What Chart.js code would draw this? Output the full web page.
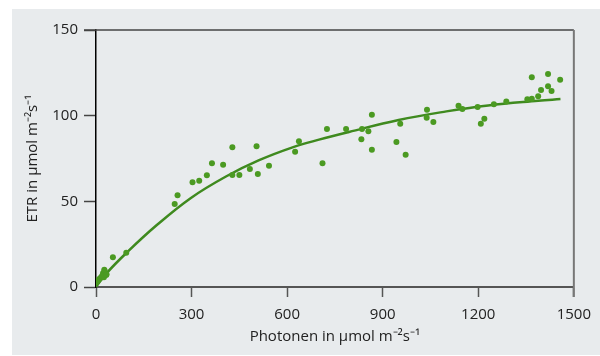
<!DOCTYPE html>
<html lang="de">
<head>
    <meta charset="UTF-8">
    <title>ETR vs Photonen</title>
    <script src="https://cdn.jsdelivr.net/npm/chart.js"></script>
    <style>
        html, body { margin: 0; padding: 0; background: #fff; }
        #wrap { width: 600px; height: 356px; }
    </style>
</head>
<body>
    <div id="wrap"><canvas id="etrChart" width="600" height="356"></canvas></div>

    <script>
        // measured points
        const photonen = [1, 6, 12, 17, 22, 25, 27, 32, 33, 26, 53, 95,
            247, 256, 303, 324, 348, 364, 399, 428, 428, 450, 483, 504, 508, 543,
            625, 637, 711, 725, 785, 835, 833, 855, 866, 866, 943, 955, 972,
            1039, 1038, 1059, 1138, 1150, 1198, 1208, 1219, 1249, 1288,
            1354, 1368, 1368, 1388, 1397, 1419, 1419, 1430, 1457];
        const etr = [2.7, 4, 5, 6, 8, 5.7, 9.5, 7, 7.4, 10, 17.3, 20,
            48.4, 53.5, 61.1, 62, 65.2, 72.2, 71.4, 81.5, 65.4, 65.4, 68.9, 82.1, 66, 70.8,
            79, 85, 72.2, 92.2, 92.2, 92.2, 86.2, 90.9, 100.6, 80.1, 84.6, 95.3, 77.2,
            103.5, 98.8, 96.3, 105.8, 103.9, 105.1, 95.3, 98.2, 106.6, 108.2,
            109.6, 109.9, 122.4, 111.3, 115, 124.3, 117.1, 114.4, 121];

        // fitted curve
        const fitX = [0, 33, 96, 190, 298, 408, 512, 617, 700, 794, 950, 1100, 1231, 1388, 1458];
        const fitY = [0, 8, 20, 36, 52, 64.5, 74, 81.5, 86, 90.5, 97.5, 102.5, 106, 108.7, 109.7];

        const xTicks = [0, 300, 600, 900, 1200, 1500];
        const yTicks = [0, 50, 100, 150];

        const green = '#4b9a22';
        const font = { family: 'Open Sans', size: 15 };

        const panelAndFrame = {
            id: 'panelAndFrame',
            beforeDraw(chart) {
                const ctx = chart.ctx;
                ctx.save();
                ctx.fillStyle = '#e8ebed';
                ctx.fillRect(12, 9, chart.width - 12, chart.height - 10);
                ctx.restore();
            },
            afterDatasetsDraw(chart) {
                const { ctx, chartArea: a } = chart;
                ctx.save();
                ctx.strokeStyle = '#444';
                ctx.lineWidth = 1.5;
                ctx.beginPath();
                ctx.moveTo(a.left - 12, a.top);
                ctx.lineTo(a.right, a.top);
                ctx.stroke();
                ctx.strokeStyle = '#777';
                ctx.lineWidth = 2;
                ctx.beginPath();
                ctx.moveTo(a.right, a.top);
                ctx.lineTo(a.right, a.bottom + 10);
                ctx.stroke();
                ctx.restore();
            }
        };

        new Chart(document.getElementById('etrChart').getContext('2d'), {
            type: 'scatter',
            data: {
                datasets: [
                    {
                        label: 'Messwerte',
                        data: photonen.map((x, i) => ({ x: x, y: etr[i] })),
                        backgroundColor: green,
                        borderWidth: 0,
                        pointRadius: 3
                    },
                    {
                        label: 'Fit',
                        type: 'line',
                        data: fitX.map((x, i) => ({ x: x, y: fitY[i] })),
                        borderColor: '#3f8a1f',
                        borderWidth: 2.5,
                        pointRadius: 0,
                        tension: 0.4,
                        fill: false
                    }
                ]
            },
            options: {
                responsive: false,
                animation: false,
                layout: { padding: { top: 30, right: 24, left: 0, bottom: 0 } },
                plugins: { legend: { display: false }, tooltip: { enabled: false } },
                scales: {
                    x: {
                        type: 'linear',
                        min: 0,
                        max: 1500,
                        afterBuildTicks: s => { s.ticks = xTicks.map(v => ({ value: v })); },
                        afterFit: s => { s.height = 69; },
                        border: { display: true, color: '#555', width: 2 },
                        grid: { drawOnChartArea: false, drawTicks: true, tickLength: 10, tickColor: '#555', tickWidth: 1.5 },
                        ticks: { color: '#222', font: font, padding: 9, maxRotation: 0, callback: v => String(v) },
                        title: {
                            display: true,
                            text: 'Photonen in µmol m⁻²s⁻¹',
                            color: '#222',
                            font: font,
                            padding: { top: 0, bottom: 10 }
                        }
                    },
                    y: {
                        type: 'linear',
                        min: 0,
                        max: 150,
                        afterBuildTicks: s => { s.ticks = yTicks.map(v => ({ value: v })); },
                        afterFit: s => { s.width = 96; },
                        border: { display: true, color: '#000', width: 1.5 },
                        grid: { drawOnChartArea: false, drawTicks: true, tickLength: 12, tickColor: '#444', tickWidth: 1.5 },
                        ticks: { color: '#222', font: font, padding: 6, callback: v => String(v) },
                        title: {
                            display: true,
                            text: 'ETR in µmol m⁻²s⁻¹',
                            color: '#222',
                            font: font,
                            padding: { top: 24, bottom: 0 }
                        }
                    }
                }
            },
            plugins: [panelAndFrame]
        });
    </script>
</body>
</html>
